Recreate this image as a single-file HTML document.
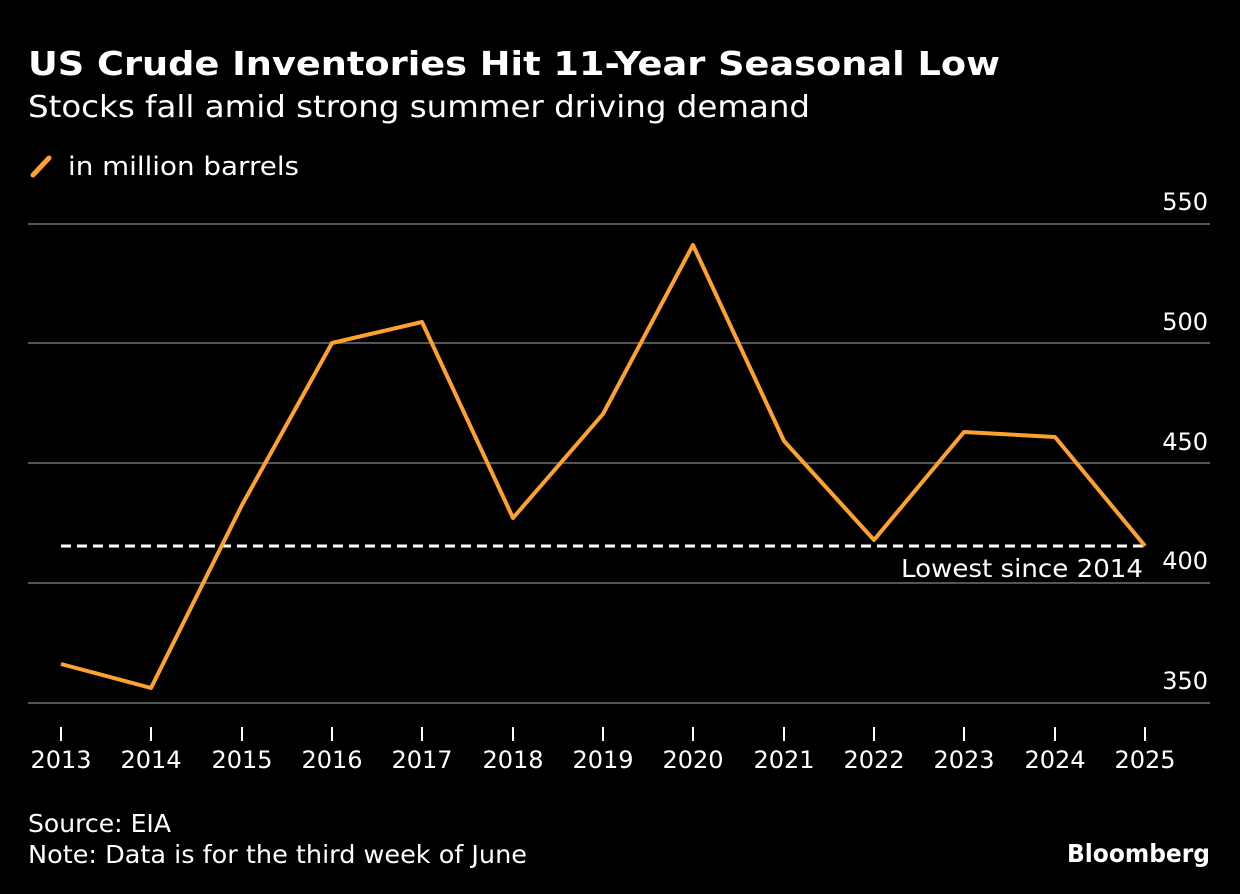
<!DOCTYPE html>
<html><head><meta charset="utf-8"><style>
html,body{margin:0;padding:0;background:#000;}
svg{display:block;font-family:"DejaVu Sans","Liberation Sans",sans-serif;}
</style></head><body>
<svg width="1240" height="894" viewBox="0 0 1240 894" xmlns="http://www.w3.org/2000/svg">
<rect width="1240" height="894" fill="#000"/>
<text x="28" y="75" fill="#fff" font-size="33" font-weight="bold" textLength="972" lengthAdjust="spacingAndGlyphs">US Crude Inventories Hit 11-Year Seasonal Low</text>
<text x="28" y="117" fill="#fff" font-size="30" textLength="782" lengthAdjust="spacingAndGlyphs">Stocks fall amid strong summer driving demand</text>
<line x1="33" y1="175" x2="49" y2="158" stroke="#ffa12d" stroke-width="5" stroke-linecap="round"/>
<text x="68" y="175" fill="#fff" font-size="26" textLength="231" lengthAdjust="spacingAndGlyphs">in million barrels</text>
<g stroke="#555" stroke-width="2">
<line x1="28" y1="224" x2="1210" y2="224"/>
<line x1="28" y1="343" x2="1210" y2="343"/>
<line x1="28" y1="463" x2="1210" y2="463"/>
<line x1="28" y1="583" x2="1210" y2="583"/>
<line x1="28" y1="703" x2="1210" y2="703"/>
</g>
<g fill="#fff" font-size="24" text-anchor="end">
<text x="1208" y="210">550</text>
<text x="1208" y="330">500</text>
<text x="1208" y="450">450</text>
<text x="1208" y="569">400</text>
<text x="1208" y="689">350</text>
</g>
<g stroke="#fff" stroke-width="2">
<line x1="61" y1="727" x2="61" y2="741"/><line x1="151" y1="727" x2="151" y2="741"/><line x1="242" y1="727" x2="242" y2="741"/><line x1="332" y1="727" x2="332" y2="741"/><line x1="422" y1="727" x2="422" y2="741"/><line x1="513" y1="727" x2="513" y2="741"/><line x1="603" y1="727" x2="603" y2="741"/><line x1="693" y1="727" x2="693" y2="741"/><line x1="784" y1="727" x2="784" y2="741"/><line x1="874" y1="727" x2="874" y2="741"/><line x1="964" y1="727" x2="964" y2="741"/><line x1="1055" y1="727" x2="1055" y2="741"/><line x1="1145" y1="727" x2="1145" y2="741"/>
</g>
<g fill="#fff" font-size="24" text-anchor="middle">
<text x="61" y="768">2013</text><text x="151" y="768">2014</text><text x="242" y="768">2015</text><text x="332" y="768">2016</text><text x="422" y="768">2017</text><text x="513" y="768">2018</text><text x="603" y="768">2019</text><text x="693" y="768">2020</text><text x="784" y="768">2021</text><text x="874" y="768">2022</text><text x="964" y="768">2023</text><text x="1055" y="768">2024</text><text x="1145" y="768">2025</text>
</g>
<line x1="61" y1="546" x2="1145" y2="546" stroke="#fff" stroke-width="3" stroke-dasharray="10,6"/>
<text x="901" y="577" fill="#fff" font-size="25" textLength="242" lengthAdjust="spacingAndGlyphs">Lowest since 2014</text>
<polyline fill="none" stroke="#ffa12d" stroke-width="4" stroke-linejoin="round" points="61,664 151,688 242,505 332,343 422,322 513,518 603,414 693,245 784,441 874,540 964,432 1055,437 1145,546"/>
<text x="28" y="832" fill="#fff" font-size="25" textLength="143" lengthAdjust="spacingAndGlyphs">Source: EIA</text>
<text x="28" y="863" fill="#fff" font-size="25" textLength="499" lengthAdjust="spacingAndGlyphs">Note: Data is for the third week of June</text>
<text x="1210" y="862" fill="#fff" font-size="25" font-weight="bold" text-anchor="end" textLength="143" lengthAdjust="spacingAndGlyphs">Bloomberg</text>
</svg>
</body></html>
